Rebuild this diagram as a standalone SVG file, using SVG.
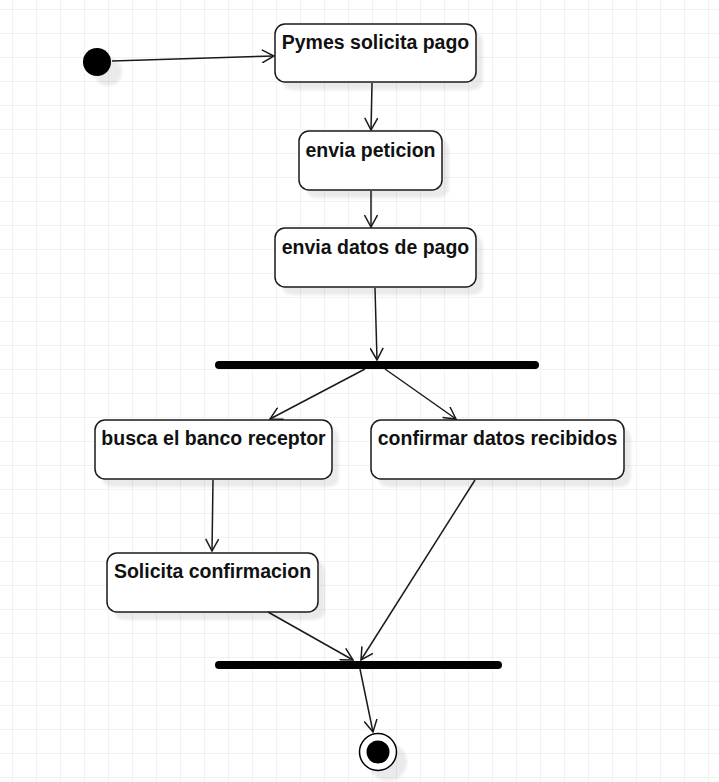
<svg xmlns="http://www.w3.org/2000/svg" width="719" height="782" viewBox="0 0 719 782">
<defs>
<pattern id="grid" x="12" y="9" width="24" height="24" patternUnits="userSpaceOnUse">
<path d="M0,0 H24 M0,0 V24" fill="none" stroke="#e6e6e6" stroke-width="1"/>
</pattern>
<filter id="sh" x="-20%" y="-20%" width="140%" height="160%">
<feGaussianBlur stdDeviation="1.5"/>
</filter>
<marker id="arr" viewBox="0 0 14 14" refX="13" refY="7" markerWidth="14" markerHeight="14" markerUnits="userSpaceOnUse" orient="auto">
<path d="M1,0.5 L13,7 L1,13.5" fill="none" stroke="#1a1a1a" stroke-width="1.5"/>
</marker>
</defs>
<style>
.node rect.box{fill:#ffffff;stroke:#1a1a1a;stroke-width:1.5}
.shadow{fill:#000;opacity:0.08;filter:url(#sh)}
.lbl{font-family:"Liberation Sans",Arial,sans-serif;font-weight:bold;font-size:19.5px;fill:#111;text-anchor:middle}
.edge{fill:none;stroke:#1a1a1a;stroke-width:1.5;marker-end:url(#arr)}
.bar{stroke:#000;stroke-width:8;stroke-linecap:round}
.barsh{stroke:#000;stroke-width:8;stroke-linecap:round;opacity:0.07;filter:url(#sh)}
</style>
<rect width="719" height="782" fill="#ffffff"/>
<rect width="719" height="782" fill="url(#grid)"/>

<g id="start">
<circle class="shadow" cx="108" cy="72" r="14"/>
<circle cx="97" cy="62" r="14" fill="#000"/>
</g>

<g id="n1" class="node">
<rect class="shadow" x="282" y="32" width="201" height="58" rx="10"/>
<rect class="box" x="275" y="24" width="201" height="58" rx="10"/>
<text class="lbl" x="375.5" y="49">Pymes solicita pago</text>
</g>

<g id="n2" class="node">
<rect class="shadow" x="306" y="139" width="143" height="59" rx="10"/>
<rect class="box" x="299" y="131" width="143" height="59" rx="10"/>
<text class="lbl" x="370.5" y="157">envia peticion</text>
</g>

<g id="n3" class="node">
<rect class="shadow" x="282" y="236" width="201" height="59" rx="10"/>
<rect class="box" x="275" y="228" width="201" height="59" rx="10"/>
<text class="lbl" x="375.5" y="254">envia datos de pago</text>
</g>

<g id="fork">
<line class="barsh" x1="228" y1="375" x2="547" y2="375"/>
<line class="bar" x1="219" y1="365" x2="535" y2="365"/>
</g>

<g id="n4" class="node">
<rect class="shadow" x="102" y="428" width="237" height="59" rx="10"/>
<rect class="box" x="95" y="420" width="237" height="59" rx="10"/>
<text class="lbl" x="213.5" y="445">busca el banco receptor</text>
</g>

<g id="n5" class="node">
<rect class="shadow" x="378" y="428" width="253" height="59" rx="10"/>
<rect class="box" x="371" y="420" width="253" height="59" rx="10"/>
<text class="lbl" x="497.5" y="445">confirmar datos recibidos</text>
</g>

<g id="n6" class="node">
<rect class="shadow" x="114" y="561" width="211" height="59" rx="10"/>
<rect class="box" x="107" y="553" width="211" height="59" rx="10"/>
<text class="lbl" x="212.5" y="578">Solicita confirmacion</text>
</g>

<g id="join">
<line class="barsh" x1="228" y1="675" x2="510" y2="675"/>
<line class="bar" x1="219" y1="665" x2="498" y2="665"/>
</g>

<g id="end">
<circle class="shadow" cx="388" cy="762" r="19"/>
<circle cx="378" cy="752" r="18.5" fill="#fff" stroke="#000" stroke-width="1.5"/>
<circle cx="378" cy="752" r="11.5" fill="#000"/>
</g>

<g id="edges">
<line class="edge" x1="112" y1="61" x2="274" y2="56"/>
<line class="edge" x1="372" y1="83" x2="371" y2="130"/>
<line class="edge" x1="371" y1="191" x2="371" y2="227"/>
<line class="edge" x1="375" y1="288" x2="377" y2="360"/>
<line class="edge" x1="365" y1="369" x2="270" y2="419"/>
<line class="edge" x1="385" y1="369" x2="456" y2="419"/>
<line class="edge" x1="213" y1="480" x2="212" y2="551"/>
<line class="edge" x1="268" y1="612" x2="353" y2="660"/>
<line class="edge" x1="475" y1="480" x2="361" y2="660"/>
<line class="edge" x1="360" y1="669" x2="373" y2="732"/>
</g>
</svg>
